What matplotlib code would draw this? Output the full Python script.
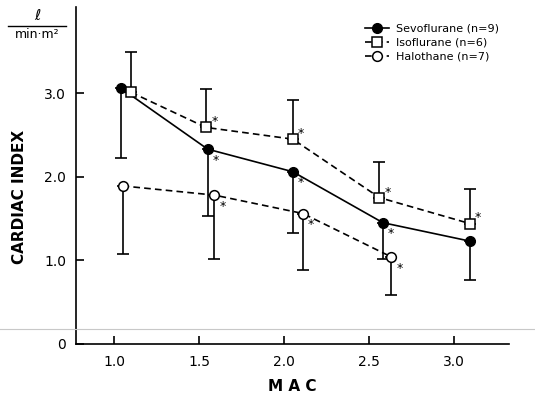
import matplotlib
matplotlib.use("Agg")
import matplotlib.pyplot as plt
from matplotlib.lines import Line2D

# x positions of points as drawn (slightly dodged from the nominal MAC)
mac_ticks = [1.0, 1.5, 2.0, 2.5, 3.0]
tick_labels = ["1.0", "1.5", "2.0", "2.5", "3.0"]

sevo_x = [1.04, 1.55, 2.05, 2.58, 3.09]
sevo_y = [3.06, 2.33, 2.06, 1.45, 1.23]
sevo_lo = [2.23, 1.53, 1.33, 1.02, 0.77]
sevo_star = [False, True, True, True, False]

iso_x = [1.10, 1.54, 2.05, 2.56, 3.09]
iso_y = [3.01, 2.59, 2.45, 1.75, 1.44]
iso_hi = [3.49, 3.05, 2.92, 2.18, 1.85]
iso_star = [False, True, True, True, True]

halo_x = [1.05, 1.59, 2.11, 2.63]
halo_y = [1.89, 1.78, 1.56, 1.04]
halo_lo = [1.08, 1.02, 0.88, 0.59]
halo_star = [False, True, True, True]

plt.rcParams['font.family'] = ['DejaVu Sans']

fig = plt.figure(figsize=(5.35, 3.93), dpi=100)
ax = fig.add_axes([0.142, 0.125, 0.809, 0.857])

lw = 1.2
k = 'black'

# one-sided error bars
ax.errorbar(sevo_x, sevo_y,
            yerr=[[y - l for y, l in zip(sevo_y, sevo_lo)], [0] * len(sevo_y)],
            fmt='none', ecolor=k, elinewidth=lw, capsize=4, capthick=lw, zorder=2)
ax.errorbar(iso_x, iso_y,
            yerr=[[0] * len(iso_y), [h - y for y, h in zip(iso_y, iso_hi)]],
            fmt='none', ecolor=k, elinewidth=lw, capsize=4, capthick=lw, zorder=2)
ax.errorbar(halo_x, halo_y,
            yerr=[[y - l for y, l in zip(halo_y, halo_lo)], [0] * len(halo_y)],
            fmt='none', ecolor=k, elinewidth=lw, capsize=4, capthick=lw, zorder=2)

ax.plot(sevo_x, sevo_y, '-', color=k, lw=lw, marker='o', ms=7,
        mfc=k, mec=k, label='Sevoflurane (n=9)', zorder=3)
ax.plot(iso_x, iso_y, '--', color=k, lw=lw, marker='s', ms=6.5,
        mfc='white', mec=k, mew=1.1, dashes=(4, 2.5), label='Isoflurane (n=6)', zorder=3)
ax.plot(halo_x, halo_y, '--', color=k, lw=lw, marker='o', ms=7,
        mfc='white', mec=k, mew=1.1, dashes=(4, 2.5), label='Halothane (n=7)', zorder=3)

# significance asterisks
for xs, ys, st, dy in [(sevo_x, sevo_y, sevo_star, -8),
                       (iso_x, iso_y, iso_star, 4),
                       (halo_x, halo_y, halo_star, -8)]:
    for x, y, s in zip(xs, ys, st):
        if s:
            ax.annotate('*', (x, y), xytext=(6, dy), textcoords='offset points',
                        ha='center', va='center', fontsize=9)

ax.set_xlim(0.776, 3.32)
ax.set_ylim(0, 4.03)
ax.set_xticks(mac_ticks)
ax.set_xticklabels(tick_labels)
ax.set_yticks([0, 1, 2, 3])
ax.set_yticklabels(['0', '1.0', '2.0', '3.0'])
ax.tick_params(direction='in', length=6, width=lw, labelsize=10, pad=7)
ax.tick_params(axis='x', pad=8)
for side in ['top', 'right']:
    ax.spines[side].set_visible(False)
for side in ['left', 'bottom']:
    ax.spines[side].set_linewidth(lw)

ax.set_xlabel('M A C', fontsize=11, fontweight='bold', labelpad=7)

leg = ax.legend(loc='upper right', bbox_to_anchor=(1.0, 0.98), frameon=False,
                fontsize=8, handlelength=2.2, handletextpad=0.6, labelspacing=0.35)

# y label and units
fig.text(0.037, 0.50, 'CARDIAC INDEX', rotation=90, ha='center', va='center',
         fontsize=11, fontweight='bold')
fig.text(0.07, 0.96, r'$\ell$', ha='center', va='center', fontsize=11)
fig.add_artist(Line2D([0.015, 0.123], [0.935, 0.935], color=k, lw=1.0))
fig.text(0.07, 0.912, 'min·m²', ha='center', va='center', fontsize=9)

# faint scan line across the page
fig.add_artist(Line2D([0, 1], [0.163, 0.163], color='#c8c8c8', lw=0.8))

fig.savefig('out.png', dpi=100)
